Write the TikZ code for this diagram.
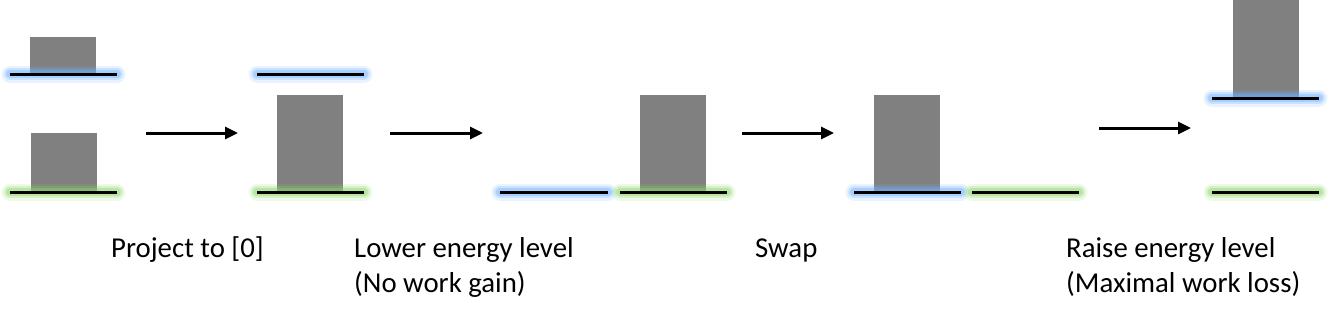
\documentclass[tikz,border=0pt]{standalone}
\usepackage{fontspec}
\setmainfont{Carlito}
\usetikzlibrary{arrows.meta}
\definecolor{GlowBlue}{RGB}{110,175,255}
\definecolor{GlowGreen}{RGB}{140,215,100}
\definecolor{BoxGray}{RGB}{128,128,128}

\begin{document}
\begin{tikzpicture}[x=1pt,y=-1pt,
level/.style={draw=black,line width=3pt,
  preaction={draw=#1,opacity=.15,line width=17pt,line cap=round},
  preaction={draw=#1,opacity=.25,line width=12pt,line cap=round},
  preaction={draw=#1,opacity=.4,line width=8pt,line cap=round}},
pop/.style={fill=BoxGray},
arrow/.style={-{Triangle[length=13pt,width=12pt]},line width=3pt},
lbl/.style={anchor=base west,inner sep=0pt,font=\fontsize{28.8}{35}\selectfont}]
\useasboundingbox (0,0) rectangle (1331,316);
% initial state
\fill[pop] (30,37) rectangle (96,74);
\fill[pop] (31,133) rectangle (97,192);
\draw[level=GlowBlue] (10,74) -- (117,74);
\draw[level=GlowGreen] (10,192) -- (117,192);
% projected
\fill[pop] (277,95) rectangle (343,192);
\draw[level=GlowBlue] (257,74) -- (364,74);
\draw[level=GlowGreen] (257,192) -- (364,192);
% lowered
\fill[pop] (640,95) rectangle (706,192);
\draw[level=GlowBlue] (500,192) -- (608,192);
\draw[level=GlowGreen] (620,192) -- (727,192);
% swapped
\fill[pop] (874,95) rectangle (940,192);
\draw[level=GlowBlue] (854,192) -- (961,192);
\draw[level=GlowGreen] (972,192) -- (1079,192);
% raised
\fill[pop] (1233,0) rectangle (1299,98);
\draw[level=GlowBlue] (1212,98) -- (1319,98);
\draw[level=GlowGreen] (1212,192) -- (1319,192);
% arrows
\coordinate (p1) at (146,133); \coordinate (q1) at (238,133);
\coordinate (p2) at (390,133); \coordinate (q2) at (483,133);
\coordinate (p3) at (742,133); \coordinate (q3) at (834,133);
\coordinate (p4) at (1099,128); \coordinate (q4) at (1191,128);
\foreach \x/\y in {p1/q1,p2/q2,p3/q3,p4/q4}{\draw[arrow] (\x)--(\y);}
% labels
\node[lbl] (proj) at (111,257) {Project to [0]};
\node[lbl] (lower) at (354,257) {Lower energy level};
\node[lbl] (lowernote) at (354,292) {(No work gain)};
\node[lbl] (swap) at (755,257) {Swap};
\node[lbl] (raise) at (1066,257) {Raise energy level};
\node[lbl] (raisenote) at (1066,292) {(Maximal work loss)};
\end{tikzpicture}
\end{document}
